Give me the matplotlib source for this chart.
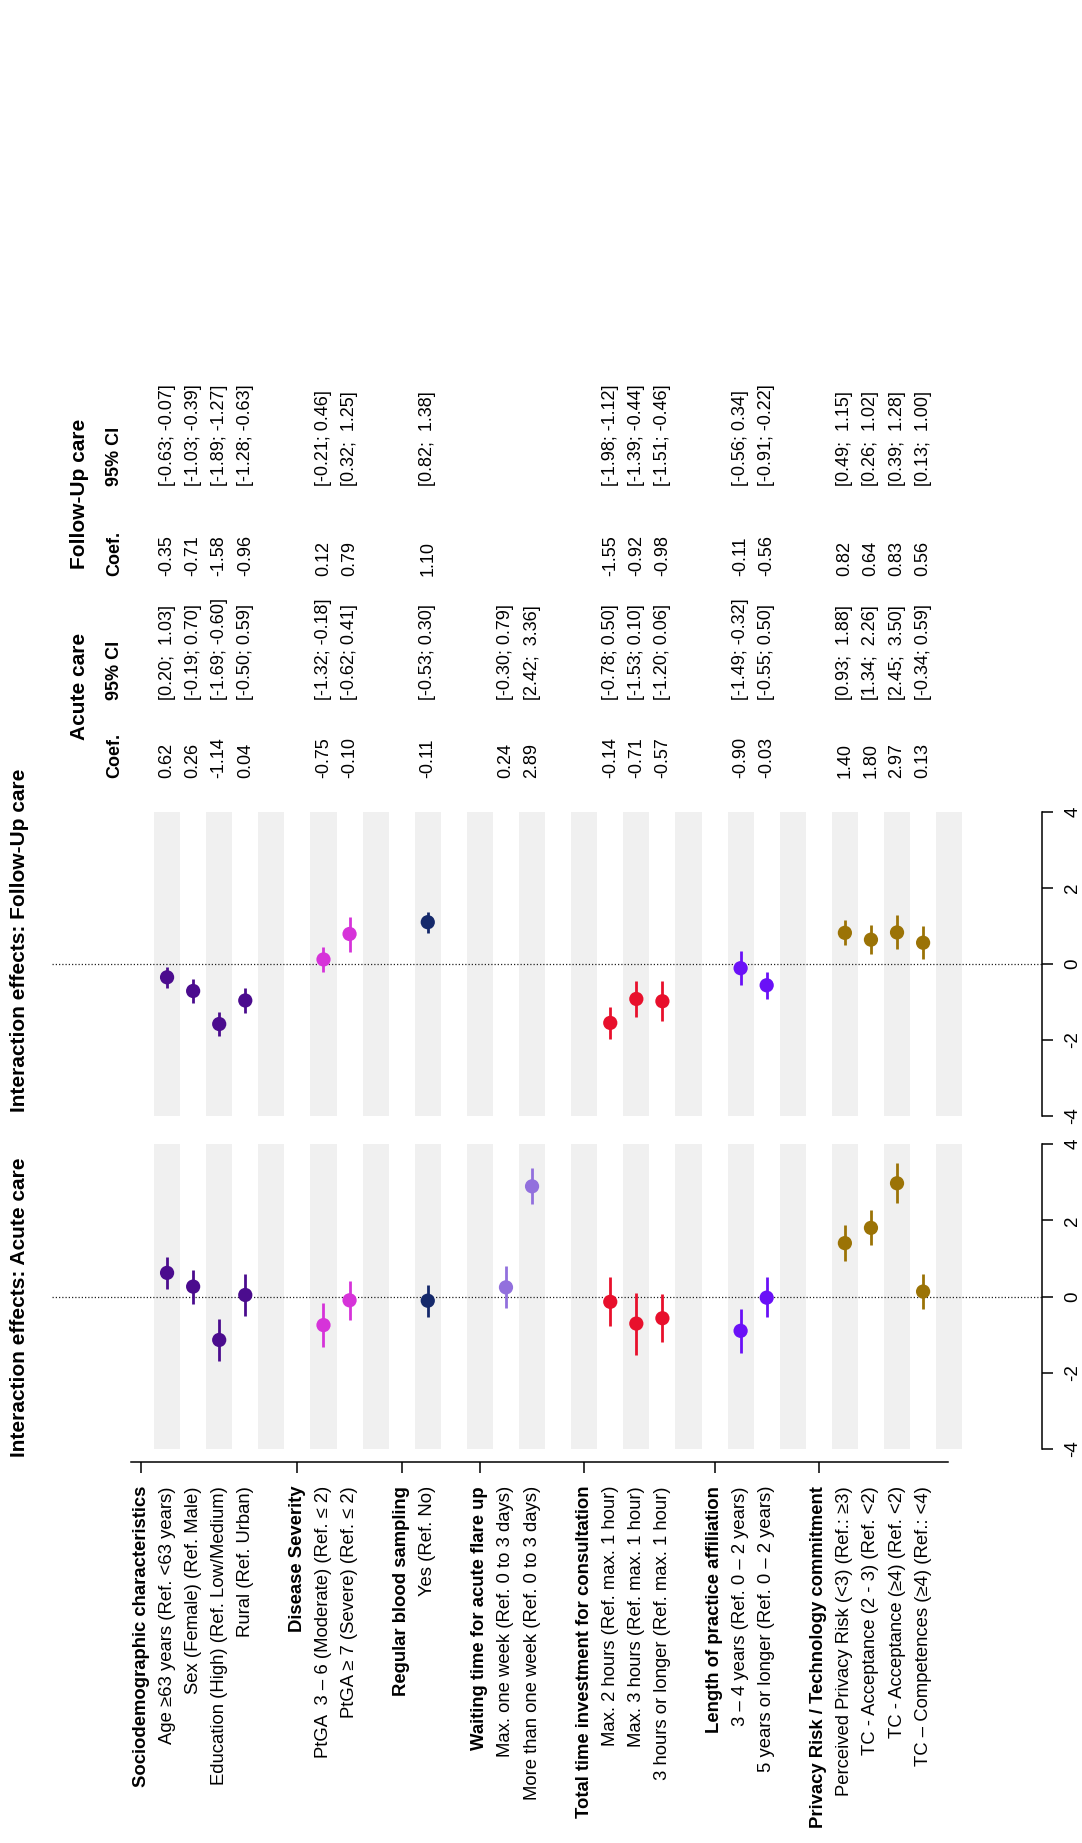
import numpy as np
import matplotlib
matplotlib.use("Agg")
import matplotlib.pyplot as plt
import matplotlib.transforms as mtransforms
from matplotlib import font_manager

# narrow face when available, regular otherwise (sizes scaled to keep text length)
_installed = {f.name for f in font_manager.fontManager.ttflist}
if "Liberation Sans Narrow" in _installed:
    plt.rcParams['font.family'] = ['Liberation Sans Narrow', 'DejaVu Sans']
    FS = 1 / 0.82
else:
    plt.rcParams['font.family'] = ['Liberation Sans', 'DejaVu Sans']
    FS = 1.0

# ---- data -------------------------------------------------------------
group_names = [
    "Sociodemographic characteristics",
    "Disease Severity",
    "Regular blood sampling",
    "Waiting time for acute flare up",
    "Total time investment for consultation",
    "Length of practice affiliation",
    "Privacy Risk / Technology commitment",
]
group_sizes = [4, 2, 1, 2, 3, 2, 4]
group_colors = ["#4b0c8e", "#d633d9", "#15296b", "#9270dd",
                "#e8102c", "#6a10f7", "#9b7306"]

item_labels = [
    "Age \u226563 years (Ref. <63 years)",
    "Sex (Female) (Ref. Male)",
    "Education (High) (Ref. Low/Medium)",
    "Rural (Ref. Urban)",
    "PtGA  3 \u2013 6 (Moderate) (Ref. \u2264 2)",
    "PtGA \u2265 7 (Severe) (Ref. \u2264 2)",
    "Yes (Ref. No)",
    "Max. one week (Ref. 0 to 3 days)",
    "More than one week (Ref. 0 to 3 days)",
    "Max. 2 hours (Ref. max. 1 hour)",
    "Max. 3 hours (Ref. max. 1 hour)",
    "3 hours or longer (Ref. max. 1 hour)",
    "3 \u2013 4 years (Ref. 0 \u2013 2 years)",
    "5 years or longer (Ref. 0 \u2013 2 years)",
    "Perceived Privacy Risk (<3) (Ref.: \u22653)",
    "TC - Acceptance (2 - 3) (Ref. <2)",
    "TC - Acceptance (\u22654) (Ref. <2)",
    "TC \u2013 Competences (\u22654) (Ref.: <4)",
]

nan = np.nan
acute_coef = [0.62, 0.26, -1.14, 0.04, -0.75, -0.10, -0.11, 0.24, 2.89,
              -0.14, -0.71, -0.57, -0.90, -0.03, 1.40, 1.80, 2.97, 0.13]
acute_lo = [0.20, -0.19, -1.69, -0.50, -1.32, -0.62, -0.53, -0.30, 2.42,
            -0.78, -1.53, -1.20, -1.49, -0.55, 0.93, 1.34, 2.45, -0.34]
acute_hi = [1.03, 0.70, -0.60, 0.59, -0.18, 0.41, 0.30, 0.79, 3.36,
            0.50, 0.10, 0.06, -0.32, 0.50, 1.88, 2.26, 3.50, 0.59]

fu_coef = [-0.35, -0.71, -1.58, -0.96, 0.12, 0.79, 1.10, nan, nan,
           -1.55, -0.92, -0.98, -0.11, -0.56, 0.82, 0.64, 0.83, 0.56]
fu_lo = [-0.63, -1.03, -1.89, -1.28, -0.21, 0.32, 0.82, nan, nan,
         -1.98, -1.39, -1.51, -0.56, -0.91, 0.49, 0.26, 0.39, 0.13]
fu_hi = [-0.07, -0.39, -1.27, -0.63, 0.46, 1.25, 1.38, nan, nan,
         -1.12, -0.44, -0.46, 0.34, -0.22, 1.15, 1.02, 1.28, 1.00]

value_ticks = [-4, -2, 0, 2, 4]

# text sizes (points, before the narrow-face factor)
SZ_LABEL, SZ_TABLE, SZ_TITLE, SZ_TICK = 13.3, 13.0, 15.0, 13.5

# ---- row layout: header row, its items, then one empty row ------------
header_rows, item_rows, item_colors = [], [], []
r = 0
for name, n, col in zip(group_names, group_sizes, group_colors):
    header_rows.append(r)
    for k in range(n):
        item_rows.append(r + 1 + k)
        item_colors.append(col)
    r += n + 2
n_rows = r
item_rows = np.array(item_rows)

# ---- figure -----------------------------------------------------------
W, H, DPI = 1082, 1843, 100
fig = plt.figure(figsize=(W / DPI, H / DPI), dpi=DPI)
# transform in image pixels, y measured downward from the top edge
pix = mtransforms.Affine2D().scale(1 / DPI, -1 / DPI).translate(0, H / DPI) + fig.dpi_scale_trans

ROW0, ROWSTEP = 141.0, 26.07   # pixel x of row 0 and row pitch
X_AXIS = 1042.0                # pixel x of the value axis
xlim = ((0 - ROW0) / ROWSTEP, (X_AXIS - ROW0) / ROWSTEP)


def make_panel(top, bottom):
    ax = fig.add_axes([0, (H - bottom) / H, X_AXIS / W, (bottom - top) / H])
    ax.set_xlim(*xlim)
    ax.set_ylim(-4, 4)
    for s in ("top", "left", "bottom"):
        ax.spines[s].set_visible(False)
    ax.spines["right"].set_bounds(-4, 4)
    ax.spines["right"].set_linewidth(1.1)
    ax.yaxis.tick_right()
    ax.set_yticks(value_ticks)
    ax.set_yticklabels([str(v) for v in value_ticks])
    ax.tick_params(axis="y", direction="out", length=8, width=1.1, pad=8,
                   labelsize=SZ_TICK * FS, labelrotation=90)
    for lab in ax.get_yticklabels():
        lab.set_verticalalignment("center")
    ax.set_xticks([])
    ax.patch.set_alpha(0)
    for sr in range(1, n_rows, 2):
        ax.axvspan(sr - 0.5, sr + 0.5, color="#f0f0f0", lw=0, zorder=0)
    ax.plot([(52 - ROW0) / ROWSTEP, xlim[1]], [0, 0], color="#222222",
            lw=0.9, ls=(0, (1, 1.6)), zorder=1, clip_on=False)
    return ax


def draw_effects(ax, coef, lo, hi):
    coef, lo, hi = map(np.asarray, (coef, lo, hi))
    ok = ~np.isnan(coef)
    cols = [c for c, k in zip(item_colors, ok) if k]
    ax.vlines(item_rows[ok], lo[ok], hi[ok], colors=cols, lw=2.0, zorder=2)
    ax.scatter(item_rows[ok], coef[ok], s=105, c=cols, lw=0, zorder=3)


ax_fu = make_panel(812, 1116)
ax_ac = make_panel(1144, 1449)
draw_effects(ax_fu, fu_coef, fu_lo, fu_hi)
draw_effects(ax_ac, acute_coef, acute_lo, acute_hi)

# category axis below the acute-care panel
bs = ax_ac.spines["bottom"]
bs.set_visible(True)
bs.set_position(("outward", 9))
bs.set_linewidth(1.1)
bs.set_bounds((131 - ROW0) / ROWSTEP, (948 - ROW0) / ROWSTEP)
ax_ac.set_xticks(header_rows)
ax_ac.set_xticklabels([])
ax_ac.tick_params(axis="x", direction="out", length=8, width=1.1)

# row labels, right-aligned toward the axis (text runs bottom to top)
lab_tr = mtransforms.blended_transform_factory(ax_ac.transData, pix)
for hr, name in zip(header_rows, group_names):
    fig.text(hr, 1486, name, transform=lab_tr, rotation=90, ha="center",
             va="top", fontsize=SZ_LABEL * FS, fontweight="bold")
for ir, name in zip(item_rows, item_labels):
    fig.text(ir, 1486, name, transform=lab_tr, rotation=90, ha="center",
             va="top", fontsize=SZ_LABEL * FS)

# panel titles
fig.text(20, 1112, "Interaction effects: Follow-Up care", transform=pix,
         rotation=90, ha="center", va="bottom", fontsize=SZ_TITLE * FS,
         fontweight="bold")
fig.text(20, 1457, "Interaction effects: Acute care", transform=pix,
         rotation=90, ha="center", va="bottom", fontsize=SZ_TITLE * FS,
         fontweight="bold")


# ---- coefficient table ------------------------------------------------
def ci_text(lo, hi):
    gap = " " if lo < 0 else "  "
    return f"[{lo:.2f};{gap}{hi:.2f}]"


tab_tr = mtransforms.blended_transform_factory(ax_fu.transData, pix)
columns = [
    ("Acute care", 686, 778, 700, acute_coef, acute_lo, acute_hi),
    ("Follow-Up care", 494, 576, 486, fu_coef, fu_lo, fu_hi),
]
for title, y_mid, y_coef, y_ci, coef, lo, hi in columns:
    fig.text(-2.35, y_mid, title, transform=tab_tr, rotation=90,
             ha="center", va="center", fontsize=SZ_TITLE * FS, fontweight="bold")
    fig.text(-1, y_coef, "Coef.", transform=tab_tr, rotation=90,
             ha="center", va="bottom", fontsize=SZ_TABLE * FS, fontweight="bold")
    fig.text(-1, y_ci, "95% CI", transform=tab_tr, rotation=90,
             ha="center", va="bottom", fontsize=SZ_TABLE * FS, fontweight="bold")
    for ir, c, l, h in zip(item_rows, coef, lo, hi):
        if np.isnan(c):
            continue
        fig.text(ir, y_coef, f"{c:.2f}", transform=tab_tr, rotation=90,
                 ha="center", va="bottom", fontsize=SZ_TABLE * FS)
        fig.text(ir, y_ci, ci_text(l, h), transform=tab_tr, rotation=90,
                 ha="center", va="bottom", fontsize=SZ_TABLE * FS)

fig.savefig("out.png", dpi=DPI)
